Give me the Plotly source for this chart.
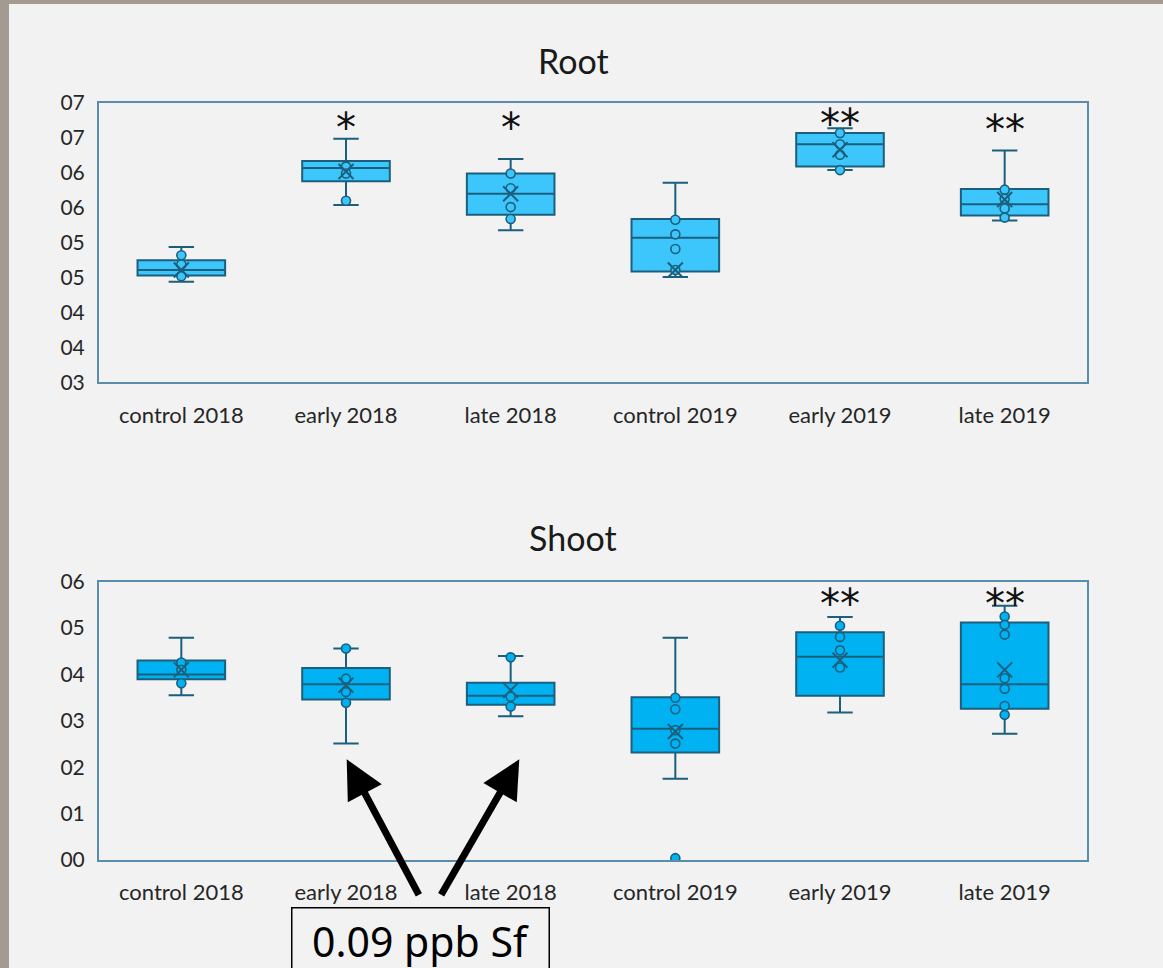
import plotly.graph_objects as go

# ---------------- data ----------------
categories = ["control 2018", "early 2018", "late 2018", "control 2019", "early 2019", "late 2019"]

root_low = [0.444, 0.554, 0.518, 0.451, 0.604, 0.532]
root_q1 = [0.453, 0.588, 0.540, 0.459, 0.609, 0.539]
root_median = [0.461, 0.607, 0.570, 0.507, 0.641, 0.555]
root_q3 = [0.475, 0.617, 0.599, 0.534, 0.657, 0.577]
root_high = [0.494, 0.649, 0.620, 0.586, 0.664, 0.632]
root_mean = [0.461, 0.602, 0.570, 0.461, 0.633, 0.562]
root_points = [
    [0.482, 0.469, 0.452],
    [0.609, 0.599, 0.560],
    [0.599, 0.578, 0.551, 0.534],
    [0.533, 0.512, 0.491, 0.461],
    [0.657, 0.641, 0.626, 0.604],
    [0.576, 0.563, 0.549, 0.536],
]
root_sig = ["", "*", "*", "", "**", "**"]

shoot_low = [0.355, 0.251, 0.310, 0.175, 0.318, 0.272]
shoot_q1 = [0.390, 0.346, 0.335, 0.232, 0.354, 0.326]
shoot_median = [0.400, 0.379, 0.354, 0.283, 0.438, 0.379]
shoot_q3 = [0.430, 0.414, 0.382, 0.351, 0.491, 0.512]
shoot_high = [0.479, 0.456, 0.440, 0.479, 0.524, 0.548]
shoot_mean = [0.410, 0.377, 0.366, 0.277, 0.431, 0.410]
shoot_points = [
    [0.426, 0.410, 0.381],
    [0.456, 0.391, 0.362, 0.339],
    [0.437, 0.352, 0.331],
    [0.350, 0.325, 0.280, 0.251, 0.004],
    [0.505, 0.481, 0.452, 0.415],
    [0.525, 0.507, 0.486, 0.392, 0.369, 0.332, 0.313],
]
shoot_sig = ["", "", "", "", "**", "**"]

root_tickvals = [0.30, 0.35, 0.40, 0.45, 0.50, 0.55, 0.60, 0.65, 0.70]
root_ticktext = ["03", "04", "04", "05", "05", "06", "06", "07", "07"]
shoot_tickvals = [0.0, 0.1, 0.2, 0.3, 0.4, 0.5, 0.6]
shoot_ticktext = ["00", "01", "02", "03", "04", "05", "06"]

# annotation anchor heights for significance stars (axis units)
root_star_y = [None, 0.664, 0.664, None, 0.670, 0.661]
shoot_star_y = [None, None, None, None, 0.553, 0.553]

# ---------------- style ----------------
FONT = "Lato"
LINE = "#1b5f7d"
BG = "#f2f2f2"
AXLINE = "#5a8cab"

fig = go.Figure()


def add_panel(low, q1, med, q3, high, mean, points, fill, xa, ya):
    fig.add_trace(go.Box(
        x=categories, lowerfence=low, q1=q1, median=med, q3=q3, upperfence=high,
        boxpoints=False, fillcolor=fill, line=dict(color=LINE, width=2),
        whiskerwidth=0.29, xaxis=xa, yaxis=ya, hoverinfo="skip",
    ))
    px, py = [], []
    for c, vals in zip(categories, points):
        for v in vals:
            px.append(c)
            py.append(v)
    fig.add_trace(go.Scatter(
        x=px, y=py, mode="markers", xaxis=xa, yaxis=ya,
        marker=dict(symbol="circle", size=9, color=fill, line=dict(color=LINE, width=1.6)),
    ))
    fig.add_trace(go.Scatter(
        x=categories, y=mean, mode="markers", xaxis=xa, yaxis=ya,
        marker=dict(symbol="x-thin-open", size=15, color=LINE, line=dict(color=LINE, width=2)),
    ))


add_panel(root_low, root_q1, root_median, root_q3, root_high, root_mean, root_points,
          "#3cc6fc", "x", "y")
add_panel(shoot_low, shoot_q1, shoot_median, shoot_q3, shoot_high, shoot_mean, shoot_points,
          "#00b2f2", "x2", "y2")

STAR_FONT = dict(family="DejaVu Sans", size=40, color="#111111")
annotations = []
for c, s, y in zip(categories, root_sig, root_star_y):
    if s:
        annotations.append(dict(x=c, y=y, xref="x", yref="y", text=s, showarrow=False,
                                font=STAR_FONT, xanchor="center", yanchor="middle"))
for c, s, y in zip(categories, shoot_sig, shoot_star_y):
    if s:
        annotations.append(dict(x=c, y=y, xref="x2", yref="y2", text=s, showarrow=False,
                                font=STAR_FONT, xanchor="center", yanchor="middle"))

# panel titles
annotations.append(dict(x=0.4798, y=1.0568, xref="paper", yref="paper", text="Root",
                        showarrow=False, font=dict(family=FONT, size=34, color="#1a1a1a"),
                        xanchor="center", yanchor="middle"))
annotations.append(dict(x=0.4798, y=0.4254, xref="paper", yref="paper", text="Shoot",
                        showarrow=False, font=dict(family=FONT, size=34, color="#1a1a1a"),
                        xanchor="center", yanchor="middle"))

# arrows
annotations.append(dict(x=0.2507, y=0.1330, xref="paper", yref="paper", text="",
                        showarrow=True, arrowhead=2, arrowsize=1.1, arrowwidth=7,
                        arrowcolor="black", ax=73, ay=137, standoff=0))
annotations.append(dict(x=0.4254, y=0.1330, xref="paper", yref="paper", text="",
                        showarrow=True, arrowhead=2, arrowsize=1.1, arrowwidth=7,
                        arrowcolor="black", ax=-79, ay=137, standoff=0))
# label box
annotations.append(dict(x=0.3259, y=-0.0621, xref="paper", yref="paper", text="0.09 ppb Sf",
                        showarrow=False, font=dict(family="Noto Sans", size=41, color="black"),
                        xanchor="center", yanchor="top", bordercolor="black", borderwidth=1.5,
                        borderpad=4, width=248, bgcolor=BG))

shapes = [
    dict(type="rect", xref="paper", yref="paper", x0=-0.1005, x1=(9 - 99) / 988,
         y0=-0.2, y1=1.2, fillcolor="#a39a92", line=dict(width=0), layer="above"),
    dict(type="rect", xref="paper", yref="paper", x0=-0.1005, x1=1.08,
         y0=(860 - 4) / 757, y1=1.2, fillcolor="#a39a92", line=dict(width=0), layer="above"),
]

axis_common = dict(showline=True, mirror=True, linecolor=AXLINE, linewidth=2,
                   showgrid=False, zeroline=False, ticks="")

fig.update_layout(
    width=1163, height=968,
    margin=dict(l=99, r=76, t=103, b=108),
    paper_bgcolor=BG, plot_bgcolor=BG,
    showlegend=False,
    boxgap=0.24,
    xaxis=dict(domain=[0, 1], anchor="y", type="category", range=[-0.5, 5.5],
               ticklabelstandoff=12, tickfont=dict(family=FONT, size=22, color="#262626"),
               **axis_common),
    yaxis=dict(domain=[0.6308, 1], anchor="x", range=[0.30, 0.70],
               tickvals=root_tickvals, ticktext=root_ticktext, ticklabelstandoff=8,
               tickfont=dict(family=FONT, size=21, color="#262626"), **axis_common),
    xaxis2=dict(domain=[0, 1], anchor="y2", type="category", range=[-0.5, 5.5],
                ticklabelstandoff=12, tickfont=dict(family=FONT, size=22, color="#262626"),
                **axis_common),
    yaxis2=dict(domain=[0, 0.3676], anchor="x2", range=[0.0, 0.6],
                tickvals=shoot_tickvals, ticktext=shoot_ticktext, ticklabelstandoff=8,
                tickfont=dict(family=FONT, size=21, color="#262626"), **axis_common),
    annotations=annotations,
    shapes=shapes,
)

fig.write_html(
    "out.html",
    config={"displayModeBar": False},
    post_script="document.body.style.margin='0px';document.body.style.overflow='hidden';",
)
